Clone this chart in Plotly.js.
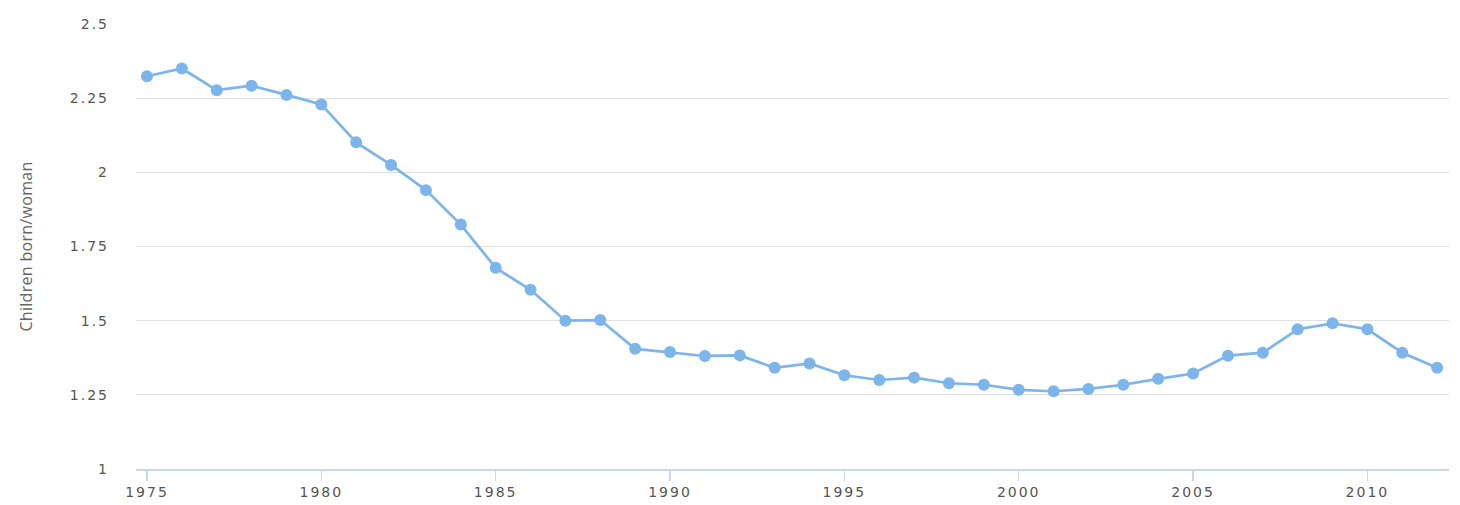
<!DOCTYPE html>
<html>
<head>
<meta charset="utf-8">
<script src="https://cdn.plot.ly/plotly-3.0.1.min.js"></script>
<style>
  html, body { margin: 0; padding: 0; background: #ffffff; }
  #chart { width: 1460px; height: 505px; }
  .xtick text, .ytick text { letter-spacing: 2px; }
  .ytitle { letter-spacing: 0.3px; }
</style>
</head>
<body>
<div id="chart"></div>
<script>
const years = [1975,1976,1977,1978,1979,1980,1981,1982,1983,1984,1985,1986,1987,1988,1989,1990,1991,1992,1993,1994,1995,1996,1997,1998,1999,2000,2001,2002,2003,2004,2005,2006,2007,2008,2009,2010,2011,2012];
const fertility = [2.324,2.350,2.277,2.292,2.261,2.229,2.101,2.025,1.940,1.824,1.678,1.604,1.500,1.502,1.405,1.394,1.381,1.383,1.341,1.356,1.316,1.300,1.308,1.289,1.284,1.267,1.262,1.270,1.284,1.304,1.322,1.382,1.392,1.471,1.491,1.471,1.392,1.341];
const yTickVals = [1, 1.25, 1.5, 1.75, 2, 2.25, 2.5];
const yTickText = ["1", "1.25", "1.5", "1.75", "2", "2.25", "2.5"];
const xTickVals = [1975, 1980, 1985, 1990, 1995, 2000, 2005, 2010];
const yTitle = "Children born/woman";

const trace = {
  x: years,
  y: fertility,
  type: 'scatter',
  mode: 'lines+markers',
  line: { color: '#7cb5ec', width: 2.7 },
  marker: { color: '#7cb5ec', size: 12 },
  hoverinfo: 'x+y'
};

const layout = {
  width: 1460,
  height: 505,
  margin: { l: 136, r: 11, t: 24, b: 36 },
  paper_bgcolor: '#ffffff',
  plot_bgcolor: '#ffffff',
  showlegend: false,
  font: { family: 'DejaVu Sans, sans-serif', color: '#666666', size: 12 },
  xaxis: {
    range: [1974.685, 2012.34],
    tickvals: xTickVals,
    ticktext: xTickVals.map(String),
    showgrid: false,
    zeroline: false,
    showline: true,
    linecolor: '#ccd6eb',
    linewidth: 1.5,
    ticks: 'outside',
    ticklen: 10,
    tickcolor: '#ccd6eb',
    tickwidth: 1.5,
    tickfont: { family: 'DejaVu Sans, sans-serif', size: 14, color: '#555555' }
  },
  yaxis: {
    range: [1, 2.5],
    tickvals: yTickVals,
    ticktext: yTickText,
    showgrid: true,
    gridcolor: '#e0e0e0',
    gridwidth: 1,
    zeroline: false,
    showline: false,
    ticks: '',
    ticklabelstandoff: 26,
    tickfont: { family: 'DejaVu Sans, sans-serif', size: 14, color: '#555555' },
    title: { text: yTitle, font: { family: 'Open Sans, sans-serif', size: 16, color: '#666666' }, standoff: 33 }
  }
};

Plotly.newPlot('chart', [trace], layout, { displayModeBar: false, staticPlot: true });
</script>
</body>
</html>
